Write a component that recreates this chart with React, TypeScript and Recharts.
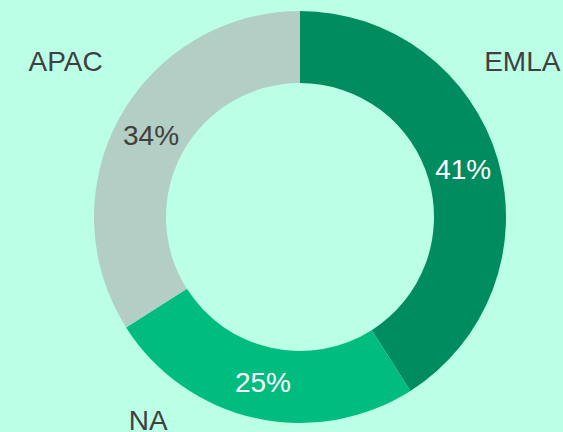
import { Cell, Pie, PieChart } from "recharts";

const regions = ["EMLA", "NA", "APAC"];
const shares = [41, 25, 34];

const colors = ["#008C5E", "#00BC7E", "#B3CEC5"];
const pctColors = ["#FFFFFF", "#FFFFFF", "#404040"];

// where the region names sit (angle in degrees, distance from centre)
const nameSpots: Record<string, { angle: number; dist: number }> = {
  EMLA: { angle: 34.9, dist: 271 },
  NA: { angle: -126.7, dist: 254 },
  APAC: { angle: 146.5, dist: 281 },
};

const data = regions.map((name, i) => ({ name, value: shares[i] }));

const RAD = Math.PI / 180;
const font = "'Liberation Sans', Arial, sans-serif";

const renderLabel = (props: any) => {
  const { cx, cy, midAngle, innerRadius, outerRadius, percent, name, index } = props;
  const r = (innerRadius + outerRadius) / 2;
  const x = cx + r * Math.cos(-midAngle * RAD);
  const y = cy + r * Math.sin(-midAngle * RAD);
  const spot = nameSpots[name];
  const nx = cx + spot.dist * Math.cos(-spot.angle * RAD);
  const ny = cy + spot.dist * Math.sin(-spot.angle * RAD);
  return (
    <g>
      <text
        x={x}
        y={y}
        fill={pctColors[index]}
        textAnchor="middle"
        dominantBaseline="central"
        fontSize={28}
        fontFamily={font}
      >
        {`${Math.round(percent * 100)}%`}
      </text>
      <text
        x={nx}
        y={ny}
        fill="#404040"
        textAnchor="middle"
        dominantBaseline="central"
        fontSize={28}
        fontFamily={font}
      >
        {name}
      </text>
    </g>
  );
};

const App = () => {
  return (
    <div
      style={{
        position: "absolute",
        left: 0,
        top: 0,
        width: 563,
        height: 432,
        background: "#BBFFE6",
      }}
    >
      <PieChart width={563} height={432} margin={{ top: 0, right: 0, left: 0, bottom: 0 }}>
        <Pie
          data={data}
          dataKey="value"
          nameKey="name"
          cx={300}
          cy={217}
          innerRadius={134}
          outerRadius={206}
          startAngle={90}
          endAngle={-270}
          stroke="none"
          label={renderLabel}
          labelLine={false}
          isAnimationActive={false}
        >
          {data.map((d, i) => (
            <Cell key={d.name} fill={colors[i]} />
          ))}
        </Pie>
      </PieChart>
    </div>
  );
};

export default App;
